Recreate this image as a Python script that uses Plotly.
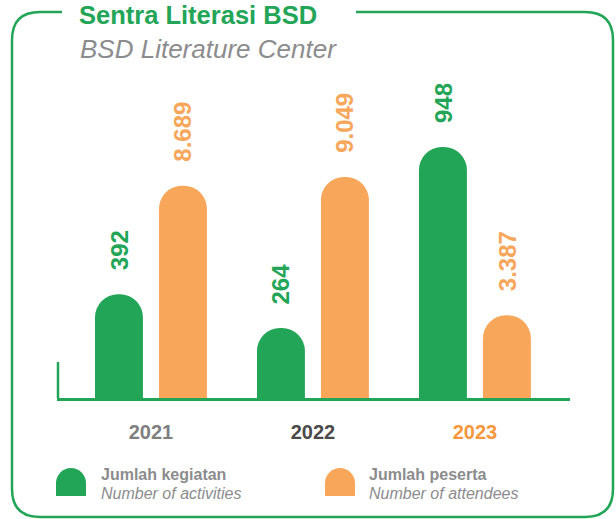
import plotly.graph_objects as go

# data
years = ['2021', '2022', '2023']
activities = [392, 264, 948]
attendees = [8689, 9049, 3387]
activity_labels = ['392', '264', '948']
attendee_labels = ['8.689', '9.049', '3.387']

GREEN = '#22A557'
ORANGE = '#F7A65A'
GRAY = '#8C8C8E'
W, H = 616, 519


def px(x, y):
   # pixel -> paper coords (margins are zero)
   return '%.5f,%.5f' % (x / W, 1 - y / H)


def path(cmds):
   out = ''
   for c in cmds:
      if isinstance(c, str):
         out += ' ' + c
      else:
         out += ' ' + px(*c)
   return out.strip()


BW = 0.296   # bar width in category units
OFF = 0.1975 # offset of bar centre from group centre

fig = go.Figure()

fig.add_trace(go.Bar(
   x=years, y=activities,
   width=BW, offset=-OFF - BW / 2,
   marker=dict(color=GREEN, cornerradius='50%', line_width=0),
   yaxis='y', hoverinfo='skip',
))
fig.add_trace(go.Bar(
   x=years, y=attendees,
   width=BW, offset=OFF - BW / 2,
   marker=dict(color=ORANGE, cornerradius='50%', line_width=0),
   yaxis='y2', hoverinfo='skip',
))

annotations = []
for i in range(len(years)):
   annotations.append(dict(
      x=i - OFF, y=activities[i], xref='x', yref='y',
      text='<b>' + activity_labels[i] + '</b>', showarrow=False,
      textangle=-90, yanchor='bottom', xanchor='center', yshift=22,
      font=dict(size=24, color=GREEN, family='Liberation Sans, Arial'),
   ))
   annotations.append(dict(
      x=i + OFF, y=attendees[i], xref='x', yref='y2',
      text='<b>' + attendee_labels[i] + '</b>', showarrow=False,
      textangle=-90, yanchor='bottom', xanchor='center', yshift=22,
      font=dict(size=24, color=ORANGE, family='Liberation Sans, Arial'),
   ))

# title and subtitle
annotations.append(dict(
   x=78 / W, y=1 - 15 / H, xref='paper', yref='paper', xanchor='left', yanchor='middle',
   text='<b>Sentra Literasi BSD</b>', showarrow=False, borderpad=0,
   font=dict(size=25.5, color=GREEN, family='Liberation Sans, Arial'),
))
annotations.append(dict(
   x=78 / W, y=1 - 49 / H, xref='paper', yref='paper', xanchor='left', yanchor='middle',
   text='<i>BSD Literature Center</i>', showarrow=False,
   font=dict(size=26, color=GRAY, family='Liberation Sans, Arial'),
))

# legend texts
legend_items = [
   ('Jumlah kegiatan', 'Number of activities', 99),
   ('Jumlah peserta', 'Number of attendees', 367),
]
for top, bottom, lx in legend_items:
   annotations.append(dict(
      x=lx / W, y=1 - 474 / H, xref='paper', yref='paper', xanchor='left', yanchor='middle',
      text='<b>' + top + '</b>', showarrow=False,
      font=dict(size=16, color=GRAY, family='Liberation Sans, Arial'),
   ))
   annotations.append(dict(
      x=lx / W, y=1 - 493 / H, xref='paper', yref='paper', xanchor='left', yanchor='middle',
      text='<i>' + bottom + '</i>', showarrow=False,
      font=dict(size=16, color=GRAY, family='Liberation Sans, Arial'),
   ))

r = 28
frame = path(['M', (62, 12), 'L', (12 + r, 12), 'Q', (12, 12), (12, 12 + r),
              'L', (12, 517 - r), 'Q', (12, 517), (12 + r, 517),
              'L', (613 - r, 517), 'Q', (613, 517), (613, 517 - r),
              'L', (613, 12 + r), 'Q', (613, 12), (613 - r, 12),
              'L', (356, 12)])


def icon(x0, x1, y0, y1):
   rr = (x1 - x0) / 2
   xm = (x0 + x1) / 2
   return path(['M', (x0, y1), 'L', (x0, y0 + rr),
                'C', (x0, y0 + rr * 0.45), (xm - rr * 0.55, y0), (xm, y0),
                'C', (xm + rr * 0.55, y0), (x1, y0 + rr * 0.45), (x1, y0 + rr),
                'L', (x1, y1), 'Z'])


shapes = [
   dict(type='path', xref='paper', yref='paper', path=frame,
        line=dict(color=GREEN, width=2.5)),
   dict(type='line', xref='paper', yref='paper',
        x0=58 / W, x1=58 / W, y0=1 - 362 / H, y1=1 - 398 / H,
        line=dict(color=GREEN, width=2.5)),
   dict(type='path', xref='paper', yref='paper', path=icon(56, 86, 468, 496),
        fillcolor=GREEN, line_width=0),
   dict(type='path', xref='paper', yref='paper', path=icon(325, 355, 468, 496),
        fillcolor=ORANGE, line_width=0),
]

year_colors = ['#7F7F7F', '#4A4A4A', '#F5973A']
ticktext = ['<span style="color:%s"><b>%s</b></span>' % (c, y) for c, y in zip(year_colors, years)]

fig.update_layout(
   width=W, height=H,
   margin=dict(l=0, r=0, t=0, b=0),
   paper_bgcolor='white', plot_bgcolor='white',
   showlegend=False,
   xaxis=dict(
      domain=[57 / W, 570 / W],
      type='category', range=[-0.58, 2.587],
      showline=True, linecolor=GREEN, linewidth=2.5,
      showgrid=False, zeroline=False, ticks='',
      tickvals=years, ticktext=ticktext,
      tickfont=dict(size=20, family='Liberation Sans, Arial'),
      ticklabelstandoff=14,
   ),
   yaxis=dict(domain=[1 - 398 / H, 1 - 60 / H], range=[0, 1277], visible=False),
   yaxis2=dict(domain=[1 - 398 / H, 1 - 60 / H], range=[0, 13835], visible=False,
               overlaying='y'),
   annotations=annotations,
   shapes=shapes,
)

fig.write_html('out.html', config={'displayModeBar': False},
               post_script="document.body.style.margin='0';")
